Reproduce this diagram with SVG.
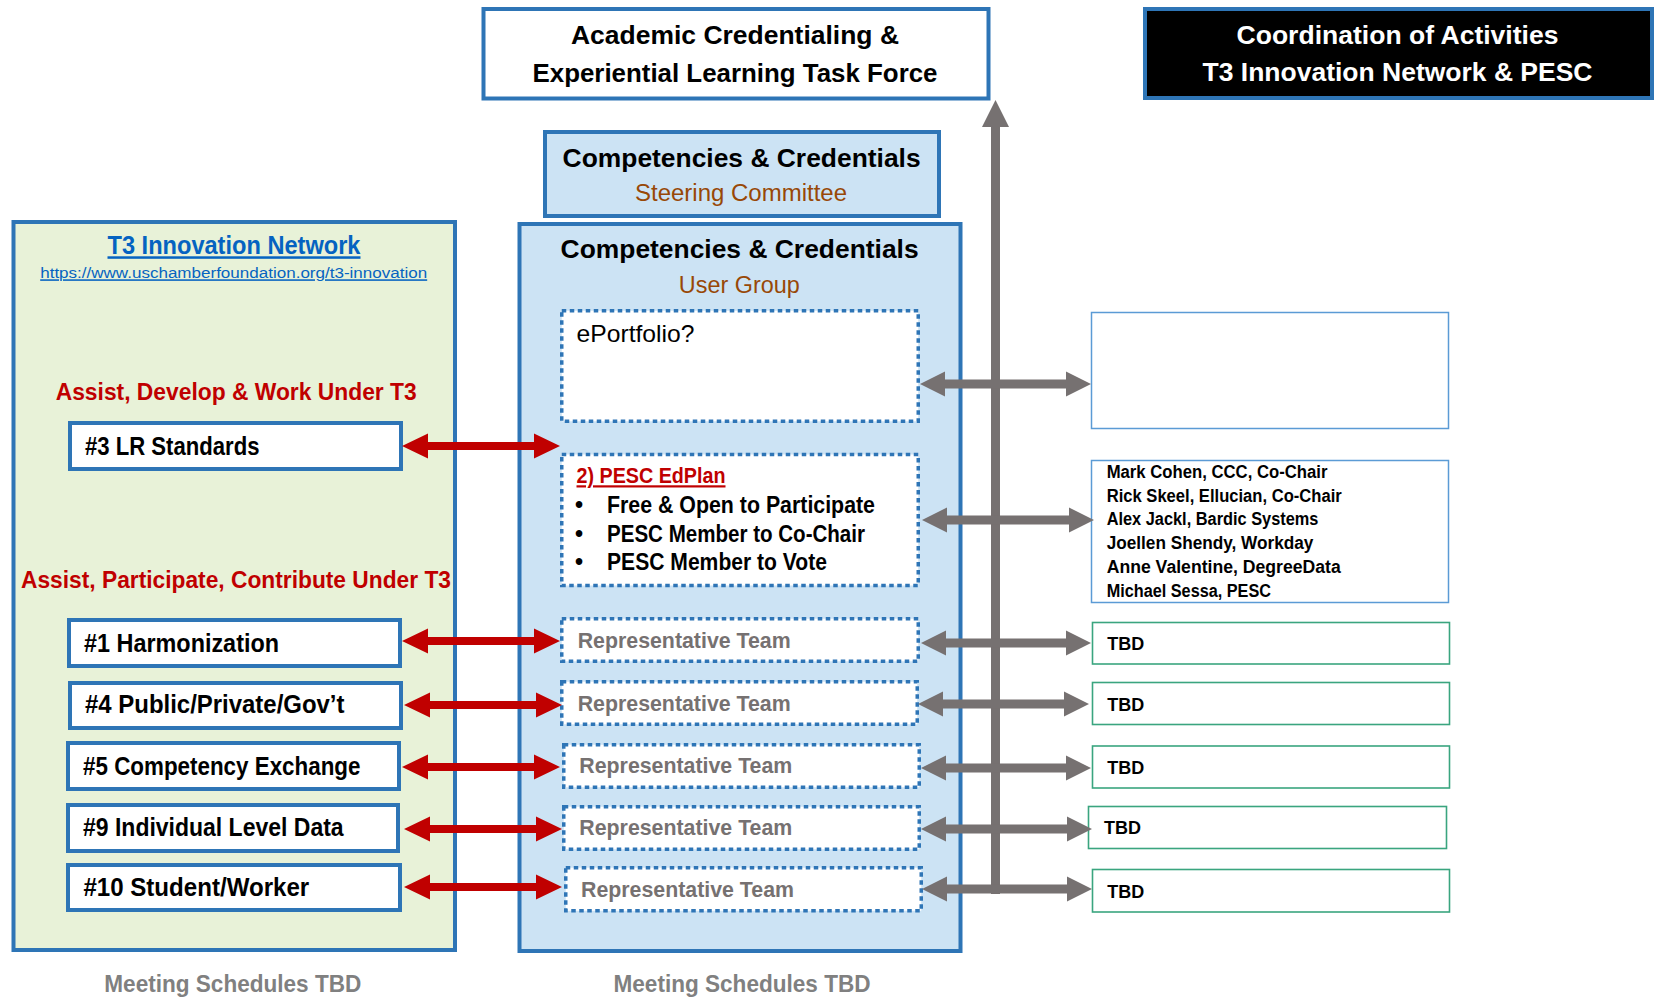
<svg xmlns="http://www.w3.org/2000/svg" width="1659" height="998" viewBox="0 0 1659 998">
<style>
text{font-family:"Liberation Sans",Arial,sans-serif;}
.b{font-weight:bold;}
.mid{text-anchor:middle;}
.box{fill:#ffffff;stroke:#2e75b6;stroke-width:4;}
.panel{fill:#cce3f4;stroke:#2e75b6;stroke-width:4;}
.green{fill:#e8f2d8;stroke:#2e75b6;stroke-width:4;}
.dot{fill:#ffffff;stroke:#2e75b6;stroke-width:3.5;stroke-dasharray:4.5 3.5;}
.rbox{fill:#ffffff;stroke:#5b9bd5;stroke-width:1.5;}
.tbox{fill:#ffffff;stroke:#3aa57f;stroke-width:1.6;}
.lab{font-size:25px;font-weight:bold;fill:#000000;}
.rep{font-size:22px;font-weight:bold;fill:#767171;}
.nm{font-size:17.5px;font-weight:bold;fill:#000000;}
.tbd{font-size:18.5px;font-weight:bold;fill:#000000;}
.red{fill:#c00000;}
.gray{fill:#767171;}
.note{font-size:24px;font-weight:bold;fill:#808080;}
</style>

<g id="task-force">
<rect class="box" x="483.5" y="9" width="505" height="89.5"/>
<text class="b mid" x="735" y="44" font-size="26" textLength="328" lengthAdjust="spacingAndGlyphs">Academic Credentialing &amp;</text>
<text class="b mid" x="735" y="81.5" font-size="26" textLength="405" lengthAdjust="spacingAndGlyphs">Experiential Learning Task Force</text>
</g>

<g id="coordination">
<rect x="1145" y="9" width="507" height="89" fill="#000000" stroke="#2e75b6" stroke-width="4"/>
<text class="b mid" x="1397.5" y="44" font-size="26" fill="#ffffff" textLength="322" lengthAdjust="spacingAndGlyphs">Coordination of Activities</text>
<text class="b mid" x="1397.5" y="81" font-size="26" fill="#ffffff" textLength="390" lengthAdjust="spacingAndGlyphs">T3 Innovation Network &amp; PESC</text>
</g>

<g id="steering-committee">
<rect class="panel" x="545" y="132" width="394" height="84"/>
<text class="b mid" x="741.6" y="166.7" font-size="25" textLength="358" lengthAdjust="spacingAndGlyphs">Competencies &amp; Credentials</text>
<text class="mid" x="741" y="201" font-size="23" fill="#984807" textLength="212" lengthAdjust="spacingAndGlyphs">Steering Committee</text>
</g>

<g id="user-group">
<rect class="panel" x="519.5" y="224" width="441" height="727"/>
<text class="b mid" x="739.6" y="258.3" font-size="25" textLength="358" lengthAdjust="spacingAndGlyphs">Competencies &amp; Credentials</text>
<text class="mid" x="739.3" y="292.7" font-size="23" fill="#984807" textLength="121" lengthAdjust="spacingAndGlyphs">User Group</text>
</g>

<g id="t3-network">
<rect class="green" x="13.5" y="222" width="441.5" height="728"/>
<text class="b mid" x="234" y="254.3" font-size="25" fill="#0563c1" text-decoration="underline" textLength="253" lengthAdjust="spacingAndGlyphs">T3 Innovation Network</text>
<text class="mid" x="233.7" y="278.3" font-size="15.5" fill="#0563c1" text-decoration="underline" textLength="387" lengthAdjust="spacingAndGlyphs">https://www.uschamberfoundation.org/t3-innovation</text>
<text class="b mid red" x="236.2" y="400" font-size="23" textLength="361" lengthAdjust="spacingAndGlyphs">Assist, Develop &amp; Work Under T3</text>
<text class="b mid red" x="236" y="587.7" font-size="23" textLength="430" lengthAdjust="spacingAndGlyphs">Assist, Participate, Contribute Under T3</text>
</g>

<g id="lr-standards">
<rect class="box" x="70" y="423" width="331" height="46"/>
<text class="lab" x="85" y="455" textLength="174.5" lengthAdjust="spacingAndGlyphs">#3 LR Standards</text>
</g>
<g id="harmonization">
<rect class="box" x="69" y="620" width="331" height="46"/>
<text class="lab" x="84" y="651.7" textLength="195" lengthAdjust="spacingAndGlyphs">#1 Harmonization</text>
</g>
<g id="public-private">
<rect class="box" x="70" y="683" width="331" height="45"/>
<text class="lab" x="85" y="713" textLength="259.5" lengthAdjust="spacingAndGlyphs">#4 Public/Private/Gov’t</text>
</g>
<g id="competency-exchange">
<rect class="box" x="68" y="743" width="331" height="46"/>
<text class="lab" x="83" y="775" textLength="277.5" lengthAdjust="spacingAndGlyphs">#5 Competency Exchange</text>
</g>
<g id="individual-data">
<rect class="box" x="68" y="805" width="330" height="46"/>
<text class="lab" x="83" y="835.7" textLength="260.6" lengthAdjust="spacingAndGlyphs">#9 Individual Level Data</text>
</g>
<g id="student-worker">
<rect class="box" x="68" y="865" width="332" height="45"/>
<text class="lab" x="83.4" y="896" textLength="225.8" lengthAdjust="spacingAndGlyphs">#10 Student/Worker</text>
</g>

<g id="eportfolio">
<rect class="dot" x="561.75" y="310.75" width="356.5" height="110.5"/>
<text x="576.5" y="341.7" font-size="24" textLength="118" lengthAdjust="spacingAndGlyphs">ePortfolio?</text>
</g>
<g id="pesc-edplan">
<rect class="dot" x="561.75" y="454.5" width="356.5" height="131"/>
<text class="b red" x="576.5" y="483.3" font-size="22" text-decoration="underline" textLength="149" lengthAdjust="spacingAndGlyphs">2) PESC EdPlan</text>
<text class="b" x="575" y="513.3" font-size="23">•</text>
<text class="b" x="607" y="513.3" font-size="23" textLength="268" lengthAdjust="spacingAndGlyphs">Free &amp; Open to Participate</text>
<text class="b" x="575" y="541.7" font-size="23">•</text>
<text class="b" x="607" y="541.7" font-size="23" textLength="258" lengthAdjust="spacingAndGlyphs">PESC Member to Co-Chair</text>
<text class="b" x="575" y="570" font-size="23">•</text>
<text class="b" x="607" y="570" font-size="23" textLength="220" lengthAdjust="spacingAndGlyphs">PESC Member to Vote</text>
</g>
<g id="rep-team-1">
<rect class="dot" x="561.75" y="618.75" width="356.5" height="42.5"/>
<text class="rep" x="577.7" y="648" textLength="213" lengthAdjust="spacingAndGlyphs">Representative Team</text>
</g>
<g id="rep-team-2">
<rect class="dot" x="561.75" y="681.75" width="355.5" height="42.5"/>
<text class="rep" x="577.7" y="710.7" textLength="213" lengthAdjust="spacingAndGlyphs">Representative Team</text>
</g>
<g id="rep-team-3">
<rect class="dot" x="563.75" y="744.75" width="355.5" height="42.5"/>
<text class="rep" x="579.3" y="773" textLength="213" lengthAdjust="spacingAndGlyphs">Representative Team</text>
</g>
<g id="rep-team-4">
<rect class="dot" x="563.75" y="806.75" width="355.5" height="42.5"/>
<text class="rep" x="579.3" y="835" textLength="213" lengthAdjust="spacingAndGlyphs">Representative Team</text>
</g>
<g id="rep-team-5">
<rect class="dot" x="565.75" y="867.75" width="355.5" height="43"/>
<text class="rep" x="581" y="896.7" textLength="213" lengthAdjust="spacingAndGlyphs">Representative Team</text>
</g>

<g id="empty-box">
<rect class="rbox" x="1091.5" y="312.5" width="357" height="116"/>
</g>
<g id="members">
<rect class="rbox" x="1091.5" y="460.5" width="357" height="142"/>
<text class="nm" x="1106.7" y="477.7" textLength="220.7" lengthAdjust="spacingAndGlyphs">Mark Cohen, CCC, Co-Chair</text>
<text class="nm" x="1106.7" y="501.7" textLength="235" lengthAdjust="spacingAndGlyphs">Rick Skeel, Ellucian, Co-Chair</text>
<text class="nm" x="1106.7" y="525" textLength="211.7" lengthAdjust="spacingAndGlyphs">Alex Jackl, Bardic Systems</text>
<text class="nm" x="1106.7" y="549.3" textLength="206.7" lengthAdjust="spacingAndGlyphs">Joellen Shendy, Workday</text>
<text class="nm" x="1106.7" y="573.3" textLength="234" lengthAdjust="spacingAndGlyphs">Anne Valentine, DegreeData</text>
<text class="nm" x="1106.7" y="596.7" textLength="164.3" lengthAdjust="spacingAndGlyphs">Michael Sessa, PESC</text>
</g>
<g id="tbd-1">
<rect class="tbox" x="1092.5" y="622.5" width="357" height="41.5"/>
<text class="tbd" x="1107.3" y="650" textLength="37" lengthAdjust="spacingAndGlyphs">TBD</text>
</g>
<g id="tbd-2">
<rect class="tbox" x="1092.5" y="682.5" width="357" height="42"/>
<text class="tbd" x="1107.3" y="711" textLength="37" lengthAdjust="spacingAndGlyphs">TBD</text>
</g>
<g id="tbd-3">
<rect class="tbox" x="1092.5" y="746" width="357" height="42"/>
<text class="tbd" x="1107.3" y="773.7" textLength="37" lengthAdjust="spacingAndGlyphs">TBD</text>
</g>
<g id="tbd-4">
<rect class="tbox" x="1088.5" y="806.5" width="358" height="42"/>
<text class="tbd" x="1104" y="834" textLength="37" lengthAdjust="spacingAndGlyphs">TBD</text>
</g>
<g id="tbd-5">
<rect class="tbox" x="1092.5" y="869.5" width="357" height="42.5"/>
<text class="tbd" x="1107.3" y="897.7" textLength="37" lengthAdjust="spacingAndGlyphs">TBD</text>
</g>

<g id="connectors">
<polygon class="red" points="402,446 428,433.5 428,442 534,442 534,433.5 560,446 534,458.5 534,450 428,450 428,458.5"/>
<polygon class="red" points="402,641 428,628.5 428,637 534,637 534,628.5 560,641 534,653.5 534,645 428,645 428,653.5"/>
<polygon class="red" points="404,705 430,692.5 430,701 536,701 536,692.5 562,705 536,717.5 536,709 430,709 430,717.5"/>
<polygon class="red" points="402,767 428,754.5 428,763 534,763 534,754.5 560,767 534,779.5 534,771 428,771 428,779.5"/>
<polygon class="red" points="404,829 430,816.5 430,825 536,825 536,816.5 562,829 536,841.5 536,833 430,833 430,841.5"/>
<polygon class="red" points="404,887 430,874.5 430,883 536,883 536,874.5 562,887 536,899.5 536,891 430,891 430,899.5"/>
<rect class="gray" x="991" y="126" width="9" height="768"/>
<polygon class="gray" points="995.5,100 1009,127 982,127"/>
<polygon class="gray" points="920,384 945,371.5 945,379.5 1066,379.5 1066,371.5 1091,384 1066,396.5 1066,388.5 945,388.5 945,396.5"/>
<polygon class="gray" points="922,520 947,507.5 947,515.5 1069,515.5 1069,507.5 1094,520 1069,532.5 1069,524.5 947,524.5 947,532.5"/>
<polygon class="gray" points="921,643 946,630.5 946,638.5 1066,638.5 1066,630.5 1091,643 1066,655.5 1066,647.5 946,647.5 946,655.5"/>
<polygon class="gray" points="918,704 943,691.5 943,699.5 1064,699.5 1064,691.5 1089,704 1064,716.5 1064,708.5 943,708.5 943,716.5"/>
<polygon class="gray" points="921,768 946,755.5 946,763.5 1066,763.5 1066,755.5 1091,768 1066,780.5 1066,772.5 946,772.5 946,780.5"/>
<polygon class="gray" points="921,829 946,816.5 946,824.5 1067,824.5 1067,816.5 1092,829 1067,841.5 1067,833.5 946,833.5 946,841.5"/>
<polygon class="gray" points="922,889 947,876.5 947,884.5 1067,884.5 1067,876.5 1092,889 1067,901.5 1067,893.5 947,893.5 947,901.5"/>
</g>

<g id="notes">
<text class="note mid" x="232.8" y="991.7" textLength="257" lengthAdjust="spacingAndGlyphs">Meeting Schedules TBD</text>
<text class="note mid" x="742" y="991.7" textLength="257" lengthAdjust="spacingAndGlyphs">Meeting Schedules TBD</text>
</g>
</svg>
